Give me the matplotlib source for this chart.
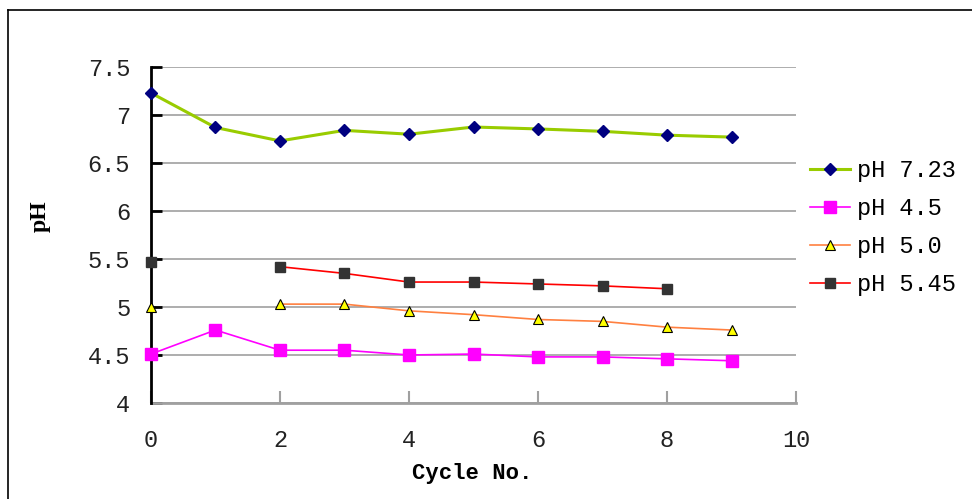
import numpy as np
import matplotlib
matplotlib.use('Agg')
from matplotlib import pyplot as plt
from matplotlib.lines import Line2D

# data
cycles = [0, 1, 2, 3, 4, 5, 6, 7, 8, 9]
ph_723 = [7.23, 6.87, 6.73, 6.84, 6.80, 6.875, 6.855, 6.83, 6.79, 6.77]
ph_45 = [4.51, 4.76, 4.55, 4.55, 4.50, 4.51, 4.48, 4.48, 4.46, 4.44]
ph_50 = [5.0, np.nan, 5.03, 5.03, 4.96, 4.92, 4.87, 4.85, 4.79, 4.76]
ph_545 = [5.47, np.nan, 5.42, 5.35, 5.26, 5.26, 5.24, 5.22, 5.19, np.nan]
labels = ['pH 7.23', 'pH 4.5', 'pH 5.0', 'pH 5.45']
yticks = [4, 4.5, 5, 5.5, 6, 6.5, 7, 7.5]
yticklabels = ['4', '4.5', '5', '5.5', '6', '6.5', '7', '7.5']
xticks = [0, 2, 4, 6, 8, 10]

fig = plt.figure(figsize=(9.72, 4.99), dpi=100)
ax = fig.add_axes([0.1553, 0.1924, 0.819 - 0.1553, 0.8657 - 0.1924])

# 外枠
fig.add_artist(Line2D([8/972, 8/972], [0, 1 - 10/499], color='black', lw=1.2))
fig.add_artist(Line2D([8/972, 1], [1 - 10/499, 1 - 10/499], color='black', lw=1.2))

series = [
    (ph_723, dict(color='#99CC00', lw=2.2, marker='D', ms=6, mfc='#000080', mec='#000080')),
    (ph_45, dict(color='#FF00FF', lw=1.2, marker='s', ms=8, mfc='#FF00FF', mec='#FF00FF')),
    (ph_50, dict(color='#FF8040', lw=1.2, marker='^', ms=7, mfc='#FFFF00', mec='black', mew=0.8)),
    (ph_545, dict(color='#FF0000', lw=1.2, marker='s', ms=6.5, mfc='#333333', mec='#333333')),
]
for (vals, st), lab in zip(series, labels):
    ax.plot(cycles, vals, label=lab, clip_on=False, zorder=3, **st)

ax.set_xlim(0, 10)
ax.set_ylim(4, 7.5)
ax.set_yticks(yticks)
ax.set_yticklabels(yticklabels)
ax.set_xticks(xticks)
ax.grid(axis='y', color='#A0A0A0', lw=1.2)
ax.set_axisbelow(True)

for s in ['top', 'right']:
    ax.spines[s].set_visible(False)
ax.spines['left'].set_color('black')
ax.spines['left'].set_linewidth(2)
ax.spines['bottom'].set_color('#A0A0A0')
ax.spines['bottom'].set_linewidth(2)
ax.spines['bottom'].set_zorder(1)

ax.tick_params(axis='x', direction='in', length=9, width=1.5, color='#A0A0A0', pad=19,
               labelsize=17)
ax.tick_params(axis='y', direction='in', length=8, width=2, color='black', pad=15,
               labelsize=17)
for t in ax.get_xticklabels() + ax.get_yticklabels():
    t.set_family('Liberation Mono')
    t.set_color('#222222')

ax.set_xlabel('Cycle No.', family='Liberation Mono', fontweight='bold', fontsize=16)
ax.set_ylabel('pH', family='Liberation Serif', fontweight='bold', fontsize=17)
ax.xaxis.set_label_coords(0.498, -0.21)
ax.xaxis.label.set_va('center')
ax.yaxis.set_label_coords(-0.172, 0.557)
ax.yaxis.label.set_va('center')

leg = ax.legend(loc='upper left', bbox_to_anchor=(1.0217, 0.726), frameon=False,
                prop={'family': 'Liberation Mono', 'size': 17}, handlelength=1.7,
                handletextpad=0.3, labelspacing=0.64, borderaxespad=0, borderpad=0)

fig.savefig('out.png', dpi=100)
